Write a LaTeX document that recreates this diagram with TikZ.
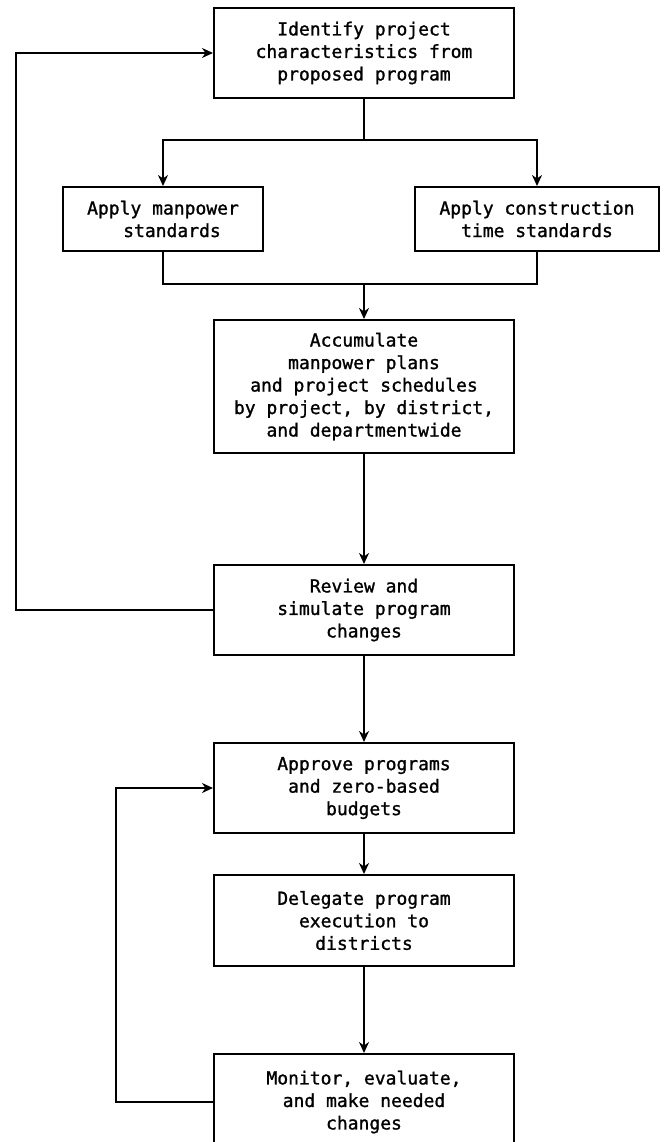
\documentclass[tikz,border=0pt]{standalone}
\usepackage{fontspec}
\setmonofont[FakeBold=1.2]{DejaVu Sans Mono}
\usetikzlibrary{arrows.meta}

\begin{document}
\begin{tikzpicture}[x=1pt,y=-1pt,
  stepbox/.style={draw,line width=2pt,rectangle,align=center,inner sep=0pt,
    font=\ttfamily\fontsize{18}{22.5}\selectfont},
  flow/.style={line width=1.7pt},
  arr/.style={flow,-{Stealth[length=11pt,width=10pt,inset=3.5pt]}}]
  \useasboundingbox (0,0) rectangle (668,1142);
  \fill[white] (0,0) rectangle (668,1142);
  \clip (0,0) rectangle (668,1142);

  % process steps
  \node[stepbox,minimum width=300pt,minimum height=90pt] (top) at (364,53)
    {Identify project\\characteristics from\\proposed program};
  \node[stepbox,minimum width=200pt,minimum height=64pt] (left) at (163,219)
    {Apply manpower\\\hspace*{1em}standards};
  \node[stepbox,minimum width=244pt,minimum height=64pt] (right) at (537,219)
    {Apply construction\\time standards};
  \node[stepbox,minimum width=300pt,minimum height=133pt] (acc) at (364,386.5)
    {Accumulate\\manpower plans\\and project schedules\\by project, by district,\\and departmentwide};
  \node[stepbox,minimum width=300pt,minimum height=90pt] (rev) at (364,610)
    {Review and\\simulate program\\changes};
  \node[stepbox,minimum width=300pt,minimum height=90pt] (appr) at (364,788)
    {Approve programs\\and zero-based\\budgets};
  \node[stepbox,minimum width=300pt,minimum height=91pt] (del) at (364,920.5)
    {Delegate program\\execution to\\districts};
  \node[stepbox,minimum width=300pt,minimum height=96pt] (mon) at (364,1102)
    {Monitor, evaluate,\\and make needed\\changes};

  % branch and merge points
  \coordinate (split) at (364,140);
  \coordinate (merge) at (364,284);
  \coordinate (fbouter) at (16,0);
  \coordinate (fbinner) at (116,0);

  \draw[flow] (top.south) -- (split);
  \draw[arr] (split) -| (left.north);
  \draw[arr] (split) -| (right.north);
  \draw[flow] (left.south) |- (merge);
  \draw[flow] (right.south) |- (merge);
  \draw[arr] (merge) -- (acc.north);
  \draw[arr] (acc.south) -- (rev.north);
  \draw[arr] (rev.south) -- (appr.north);
  \draw[arr] (appr.south) -- (del.north);
  \draw[arr] (del.south) -- (mon.north);

  % feedback loops
  \draw[arr] (rev.west) -- (rev.west -| fbouter) |- (top.west);
  \draw[arr] (mon.west) -- (mon.west -| fbinner) |- (appr.west);
\end{tikzpicture}
\end{document}
